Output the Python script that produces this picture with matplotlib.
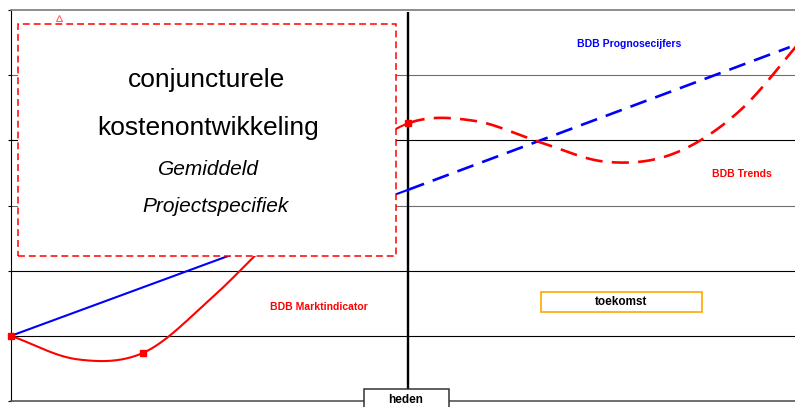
import numpy as np
import matplotlib
matplotlib.use("Agg")
import matplotlib.pyplot as plt
from matplotlib.patches import Rectangle

plt.rcParams['font.family'] = ['Liberation Sans', 'DejaVu Sans']

# ---- data -------------------------------------------------------------
heden_x = 6.0

# blue: BDB Marktindicator (solid, past) -> BDB Prognosecijfers (dashed, future)
blue_x = [0.0, 6.0, 11.77]
blue_y = [1.0, 3.24, 5.43]

# red: BDB Marktindicator (solid, past) -> BDB Trends (dashed, future)
red_x = [0, 1, 2, 3, 4, 5, 6, 7, 8, 9, 10, 11, 12]
red_y = [1.0, 0.64, 0.74, 1.55, 2.55, 3.55, 4.26, 4.30, 3.97, 3.67, 3.79, 4.44, 5.6]
red_marker_x = [0, 2, 6]
red_marker_y = [1.0, 0.74, 4.26]

grid_levels = [1, 2, 3, 4, 5]
grid_colors = ['#000000', '#000000', '#6e6e6e', '#000000', '#6e6e6e']

title_lines = ['conjuncturele', 'kostenontwikkeling']
subtitle_lines = ['Gemiddeld', 'Projectspecifiek']


def catmull_rom(xs, ys, n=40):
    """Smooth curve through the given points (Catmull-Rom, like a smoothed line)."""
    xs = np.asarray(xs, float)
    ys = np.asarray(ys, float)
    px = np.concatenate([[2 * xs[0] - xs[1]], xs, [2 * xs[-1] - xs[-2]]])
    py = np.concatenate([[2 * ys[0] - ys[1]], ys, [2 * ys[-1] - ys[-2]]])
    out_x, out_y = [], []
    t = np.linspace(0, 1, n)
    for i in range(1, len(px) - 2):
        for arr, P in ((out_x, px), (out_y, py)):
            p0, p1, p2, p3 = P[i - 1], P[i], P[i + 1], P[i + 2]
            seg = 0.5 * ((2 * p1) + (-p0 + p2) * t
                         + (2 * p0 - 5 * p1 + 4 * p2 - p3) * t ** 2
                         + (-p0 + 3 * p1 - 3 * p2 + p3) * t ** 3)
            arr.extend(seg if i == 1 else seg[1:])
    return np.array(out_x), np.array(out_y)


# ---- figure -----------------------------------------------------------
W, H = 795, 407
fig = plt.figure(figsize=(W / 100, H / 100), dpi=100)
ax = fig.add_axes([11 / W, 6 / H, (W - 11) / W, 391 / H])
ax.set_xlim(0, 11.85)
ax.set_ylim(0, 6)

# frame
ax.spines['right'].set_visible(False)
ax.spines['top'].set_color('#7a7a7a')
ax.spines['top'].set_linewidth(1.2)
ax.spines['bottom'].set_color('#555555')
ax.spines['bottom'].set_linewidth(1.2)
ax.spines['left'].set_color('#000000')
ax.spines['left'].set_linewidth(0.8)
ax.set_xticks([])
ax.set_yticks(range(0, 7))
ax.set_yticklabels([])
ax.tick_params(axis='y', direction='out', length=2.5, width=0.8, color='#000000')

for lvl, col in zip(grid_levels, grid_colors):
    ax.axhline(lvl, color=col, lw=0.8, zorder=1)

# "heden" divider
ax.plot([heden_x, heden_x], [0, 5.97], color='black', lw=1.7, zorder=2,
        solid_capstyle='butt')

# blue series
bx = np.array(blue_x)
by = np.array(blue_y)
past = bx <= heden_x
ax.plot(bx[past], by[past], color='#0000ff', lw=1.5, zorder=3)
ax.plot(bx[bx >= heden_x], by[bx >= heden_x], color='#0000ff', lw=1.9,
        dashes=(6.5, 3.5), zorder=3)

# red series
sx, sy = catmull_rom(red_x, red_y)
m = sx <= heden_x + 1e-9
ax.plot(sx[m], sy[m], color='#ff0000', lw=1.5, zorder=3)
m2 = sx >= heden_x - 1e-9
ax.plot(sx[m2], sy[m2], color='#ff0000', lw=1.9, dashes=(6.5, 3.5), zorder=3)
ax.plot(red_marker_x, red_marker_y, ls='none', marker='s', ms=4.5,
        color='#ff0000', zorder=4, clip_on=False)

# series labels
ax.text(9.35, 5.475, 'BDB Prognosecijfers', color='#0000ff', fontsize=7.5,
        fontweight='bold', ha='center', va='center', zorder=5)
ax.text(11.04, 3.48, 'BDB Trends', color='#ff0000', fontsize=7.5,
        fontweight='bold', ha='center', va='center', zorder=5)
ax.text(4.65, 1.44, 'BDB Marktindicator', color='#ff0000', fontsize=7.5,
        fontweight='bold', ha='center', va='center', zorder=5)

# "toekomst" box
ax.add_patch(Rectangle((8.01, 1.365), 2.43, 0.307, facecolor='white',
                       edgecolor='#ffa500', lw=1.2, zorder=5))
ax.text(9.22, 1.515, 'toekomst', color='black', fontsize=8.5,
        fontweight='bold', ha='center', va='center', zorder=6)

# "heden" box at the bottom
ax.add_patch(Rectangle((5.33, -0.3), 1.29, 0.484, facecolor='white',
                       edgecolor='#333333', lw=1.1, zorder=6, clip_on=False))
ax.text(5.97, 0.02, 'heden', color='black', fontsize=8.5, fontweight='bold',
        ha='center', va='center', zorder=7, clip_on=False)

# title box
ax.add_patch(Rectangle((0.106, 2.22), 5.72, 3.56, facecolor='white',
                       edgecolor='#ff0000', lw=1.1, linestyle=(0, (4.5, 2.6)),
                       zorder=8))
ax.plot([0.725], [5.87], marker='^', ms=4, mfc='none', mec='#ff6666',
        mew=0.8, ls='none', zorder=9)
ax.text(2.96, 4.816, title_lines[0], fontsize=19, ha='center',
        va='baseline', zorder=9)
ax.text(2.976, 4.08, title_lines[1], fontsize=19, ha='center',
        va='baseline', zorder=9)
ax.text(2.99, 3.466, subtitle_lines[0], fontsize=15, style='italic',
        ha='center', va='baseline', zorder=9)
ax.text(3.09, 2.899, subtitle_lines[1], fontsize=15, style='italic',
        ha='center', va='baseline', zorder=9)

fig.savefig('out.png', dpi=100)
